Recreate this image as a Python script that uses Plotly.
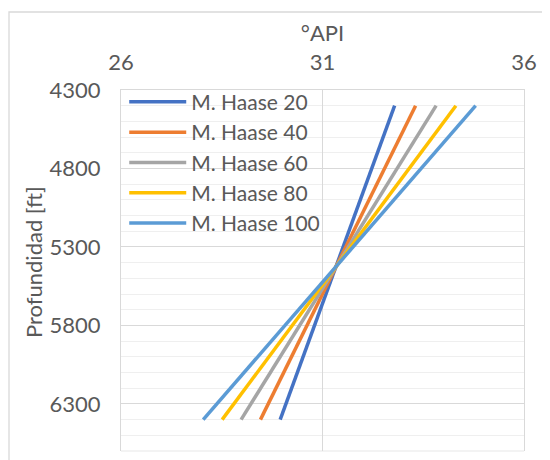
import plotly.graph_objects as go

series_names = ["M. Haase 20", "M. Haase 40", "M. Haase 60", "M. Haase 80", "M. Haase 100"]
depth = [4400, 6400]
api_20 = [32.79, 29.95]
api_40 = [33.31, 29.46]
api_60 = [33.82, 28.98]
api_80 = [34.31, 28.51]
api_100 = [34.80, 28.04]
colors = ["#4472C4", "#ED7D31", "#A5A5A5", "#FFC000", "#5B9BD5"]

x_ticks = [26, 31, 36]
y_ticks = [4300, 4800, 5300, 5800, 6300]

FONT = "Lato"
TXT = "#595959"
FS = 22

# page offset of the figure (body margin) is 8px; plot area in page: x 121..524, y 90..451
L, T, PW, PH = 113, 82, 403, 361

fig = go.Figure()
for name, xs, c in zip(series_names, [api_20, api_40, api_60, api_80, api_100], colors):
    fig.add_trace(go.Scatter(x=xs, y=depth, mode="lines", name=name,
                             line=dict(color=c, width=3.5)))

fig.update_layout(
    width=550, height=460,
    margin=dict(l=L, r=550 - L - PW, t=T, b=460 - T - PH),
    paper_bgcolor="white", plot_bgcolor="white",
    font=dict(family=FONT, color=TXT, size=FS),
    showlegend=True,
    legend=dict(x=0.008, y=1.023, xanchor="left", yanchor="top",
                bgcolor="rgba(0,0,0,0)", font=dict(size=21, color=TXT, family=FONT),
                tracegroupgap=0, itemwidth=57),
    xaxis=dict(side="top", range=[26, 36], tickvals=x_ticks, ticks="",
               showgrid=True, gridcolor="#d9d9d9", gridwidth=1.3,
               zeroline=False, showline=True, linecolor="#d9d9d9", linewidth=1.3,
               automargin=False, ticklabelstandoff=10,
               title=dict(text="°API", font=dict(size=FS, color=TXT), standoff=0),
               tickfont=dict(size=FS, color=TXT)),
    yaxis=dict(range=[6600, 4300], tickvals=y_ticks, ticks="",
               showgrid=True, gridcolor="#d9d9d9", gridwidth=1.3,
               minor=dict(dtick=100, tick0=4300, showgrid=True, gridcolor="#efefef", gridwidth=1.3),
               zeroline=False, showline=True, mirror=True, linecolor="#d9d9d9", linewidth=1.3,
               automargin=False, ticklabelstandoff=15,
               tickfont=dict(size=FS, color=TXT)),
)

# y-axis title as rotated annotation (sits a little above centre in the reference)
fig.add_annotation(text="Profundidad [ft]", xref="paper", yref="paper",
                   x=(25 - L) / PW, y=1 - (254 - T) / PH, xanchor="center", yanchor="middle",
                   textangle=-90, showarrow=False, font=dict(size=FS, color=TXT, family=FONT))

# bottom edge of plot area (light minor gridline at range end)
fig.add_shape(type="line", xref="paper", yref="paper", x0=0, x1=1, y0=0, y1=0,
              line=dict(color="#efefef", width=1.3), layer="below")

# outer chart border (cropped at right/bottom in the reference)
fig.add_shape(type="rect", xref="paper", yref="paper",
              x0=(1 - L) / PW, x1=(560 - L) / PW,
              y0=1 - (475 - T) / PH, y1=1 + (T - 4) / PH,
              line=dict(color="#d9d9d9", width=1.3), fillcolor="rgba(0,0,0,0)", layer="below")

fig.write_html("out.html")
